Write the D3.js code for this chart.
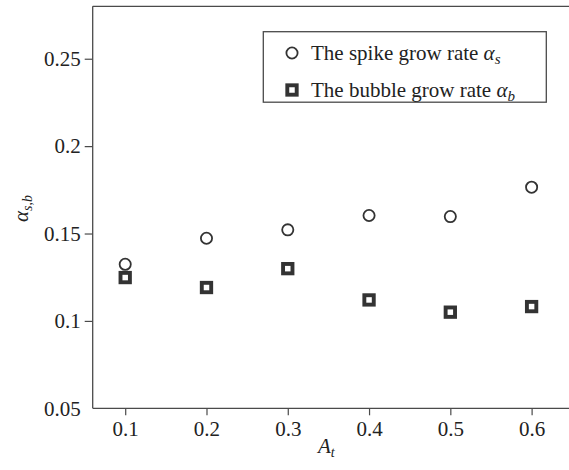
<!DOCTYPE html>
<html>
<head>
<meta charset="utf-8">
<script src="https://cdn.jsdelivr.net/npm/d3@7"></script>
<style>
  html, body { margin: 0; padding: 0; background: #fff; }
  svg text { font-family: "Liberation Serif", "Times New Roman", serif; fill: #222; }
</style>
</head>
<body>
<svg id="chart" width="569" height="470"></svg>
<script>
// Atwood numbers and measured growth rates
const atwood = [0.1, 0.2, 0.3, 0.4, 0.5, 0.6];
const spikeRate = [0.1324, 0.1473, 0.1521, 0.1603, 0.1597, 0.1765];
const bubbleRate = [0.1248, 0.1191, 0.1299, 0.1120, 0.1050, 0.1082];
const xTicks = [0.1, 0.2, 0.3, 0.4, 0.5, 0.6];
const yTicks = [0.05, 0.1, 0.15, 0.2, 0.25];

const svg = d3.select("#chart");
const W = 569;
const plotLeft = 92.7, plotTop = 6.3, plotBottom = 408.3;
const axisColor = "#4a4a4a";

const x = d3.scaleLinear().domain([0.06, 0.646]).range([plotLeft, W]);
const y = d3.scaleLinear().domain([0.05, 0.28]).range([plotBottom, plotTop]);

// Axes
const xAxis = d3.axisBottom(x).tickValues(xTicks).tickSize(7).tickPadding(6)
  .tickFormat(d3.format("~g"));
const gx = svg.append("g").attr("transform", `translate(0,${plotBottom})`).call(xAxis);

const yAxis = d3.axisLeft(y).tickValues(yTicks).tickSize(8).tickPadding(4)
  .tickFormat(d3.format("~g"));
const gy = svg.append("g").attr("transform", `translate(${plotLeft},0)`).call(yAxis);

[gx, gy].forEach(g => {
  g.select(".domain").remove();
  g.selectAll(".tick line").attr("stroke", axisColor).attr("stroke-width", 1.2);
  g.selectAll(".tick text").attr("font-size", 21)
    .style("font-family", "'Liberation Serif', serif").attr("fill", "#222");
});
gy.selectAll(".tick").filter(d => d === 0.05).select("line").remove();

// Frame: left, top and bottom lines
const frame = svg.append("g").attr("stroke", axisColor).attr("stroke-width", 1.3).attr("fill", "none");
frame.append("line").attr("x1", plotLeft).attr("x2", plotLeft).attr("y1", plotTop).attr("y2", plotBottom);
frame.append("line").attr("x1", plotLeft).attr("x2", W).attr("y1", plotTop).attr("y2", plotTop);
frame.append("line").attr("x1", plotLeft).attr("x2", W).attr("y1", plotBottom).attr("y2", plotBottom);

const markColor = "#333";

function drawCircle(g, cx, cy) {
  g.append("circle").attr("cx", cx).attr("cy", cy).attr("r", 5.6)
    .attr("fill", "#fff").attr("stroke", markColor).attr("stroke-width", 1.8);
}
function drawSquare(g, cx, cy) {
  const s = 9.4;
  g.append("rect").attr("x", cx - s / 2).attr("y", cy - s / 2)
    .attr("width", s).attr("height", s)
    .attr("fill", "#fff").attr("stroke", markColor).attr("stroke-width", 3.9);
}

// Data markers
const marks = svg.append("g");
atwood.forEach((a, i) => drawCircle(marks, x(a), y(spikeRate[i])));
atwood.forEach((a, i) => drawSquare(marks, x(a), y(bubbleRate[i])));

// Legend
const lg = svg.append("g");
lg.append("rect").attr("x", 263.3).attr("y", 31.7).attr("width", 283).attr("height", 70.5)
  .attr("fill", "#fff").attr("stroke", axisColor).attr("stroke-width", 1.3);
drawCircle(lg, 292, 53);
drawSquare(lg, 292, 90);
const t1 = lg.append("text").attr("x", 311).attr("y", 59.5).attr("font-size", 21);
t1.append("tspan").text("The spike grow rate ");
t1.append("tspan").attr("font-style", "italic").text("α");
t1.append("tspan").attr("font-style", "italic").attr("font-size", 15).attr("dy", 4).text("s");
const t2 = lg.append("text").attr("x", 311).attr("y", 96.5).attr("font-size", 21);
t2.append("tspan").text("The bubble grow rate ");
t2.append("tspan").attr("font-style", "italic").text("α");
t2.append("tspan").attr("font-style", "italic").attr("font-size", 15).attr("dy", 4).text("b");

// Axis titles
const xl = svg.append("text").attr("x", 318).attr("y", 453).attr("font-size", 21);
xl.append("tspan").attr("font-style", "italic").text("A");
xl.append("tspan").attr("font-style", "italic").attr("font-size", 14).attr("dy", 4).text("t");

const yl = svg.append("text").attr("transform", "translate(28,222) rotate(-90)").attr("font-size", 21);
yl.append("tspan").attr("font-style", "italic").text("α");
yl.append("tspan").attr("font-style", "italic").attr("font-size", 14).attr("dy", 4).text("s,b");
</script>
</body>
</html>
